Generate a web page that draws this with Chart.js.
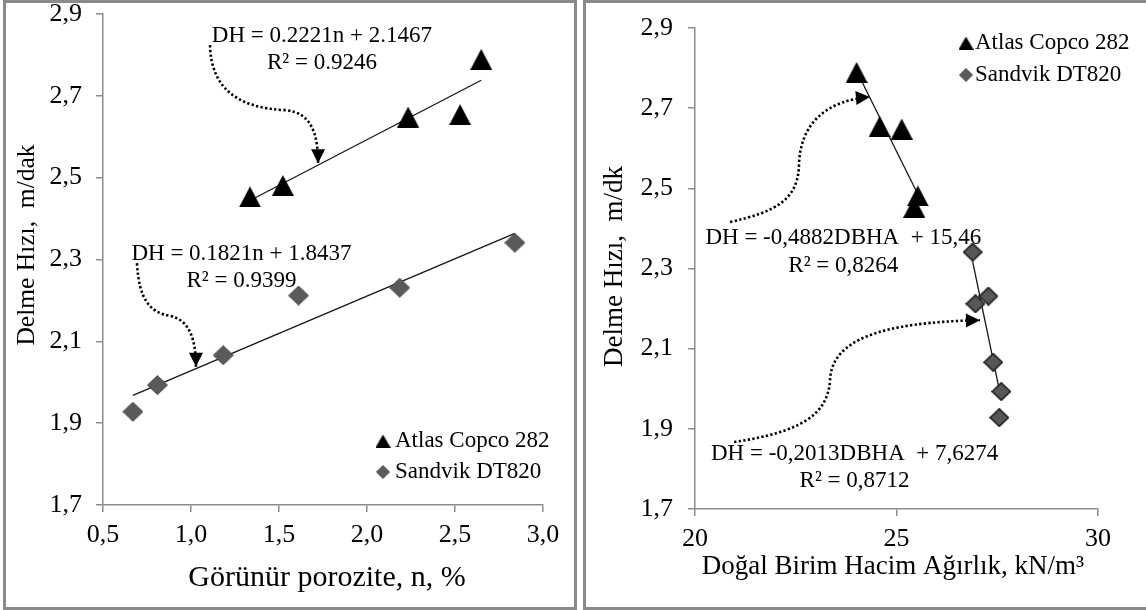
<!DOCTYPE html>
<html><head><meta charset="utf-8">
<script src="https://cdn.jsdelivr.net/npm/chart.js@4.4.1/dist/chart.umd.min.js"></script>
<style>
html,body{margin:0;padding:0;background:#fff;width:1146px;height:610px;overflow:hidden;}
.panel{position:absolute;top:0;height:610px;box-sizing:border-box;border:3px solid #8a8a8a;background:#fff;}
#p1{left:3px;width:574px;}
#p2{left:583px;width:567px;}
canvas{display:block;}
</style></head><body>
<div class="panel" id="p1"><canvas id="c1" width="568" height="604"></canvas></div>
<div class="panel" id="p2"><canvas id="c2" width="561" height="604"></canvas></div>
<script>
// ---------------- DATA ----------------
const seriesNames = ['Atlas Copco 282', 'Sandvik DT820'];
// drilling rate (DH, m/dak)
const atlasRate   = [2.453, 2.481, 2.648, 2.654, 2.789];
const sandvikRate = [1.928, 1.993, 2.066, 2.212, 2.231, 2.341];
// left chart: apparent porosity n (%)
const atlasPorosity   = [1.335, 1.522, 2.234, 2.529, 2.649];
const sandvikPorosity = [0.670, 0.809, 1.183, 1.611, 2.186, 2.840];
// right chart: natural unit weight (kN/m3)
const atlasUnitWeight   = [25.44, 25.53, 25.13, 24.58, 24.01];
const sandvikUnitWeight = [27.55, 27.60, 27.40, 26.96, 27.28, 26.89];
// ticks
const rateTicks = [1.7, 1.9, 2.1, 2.3, 2.5, 2.7, 2.9];
const rateTickLabels = ['1,7', '1,9', '2,1', '2,3', '2,5', '2,7', '2,9'];
const porosityTicks = [0.5, 1.0, 1.5, 2.0, 2.5, 3.0];
const porosityTickLabels = ['0,5', '1,0', '1,5', '2,0', '2,5', '3,0'];
const weightTicks = [20, 25, 30];
const weightTickLabels = ['20', '25', '30'];
// texts
const leftTitles = ['Görünür porozite, n, %', 'Delme Hızı,  m/dak'];
const rightTitles = ['Doğal Birim Hacim Ağırlık, kN/m³', 'Delme Hızı,  m/dk'];
const leftEquations = [['DH = 0.2221n + 2.1467', 'R² = 0.9246'], ['DH = 0.1821n + 1.8437', 'R² = 0.9399']];
const rightEquations = [['DH = -0,4882DBHA  + 15,46', 'R² = 0,8264'], ['DH = -0,2013DBHA  + 7,6274', 'R² = 0,8712']];

// ---------------- HELPERS ----------------
const FONT = "'Liberation Serif','Times New Roman',Times,serif";
const zip = (xs, ys) => xs.map((x, i) => ({x: x, y: ys[i]}));
function trend(xs, ys) {
  const n = xs.length;
  const mx = xs.reduce((a, b) => a + b, 0) / n, my = ys.reduce((a, b) => a + b, 0) / n;
  let sxy = 0, sxx = 0;
  for (let i = 0; i < n; i++) { sxy += (xs[i] - mx) * (ys[i] - my); sxx += (xs[i] - mx) * (xs[i] - mx); }
  const b = sxy / sxx, a = my - b * mx;
  const x0 = Math.min(...xs), x1 = Math.max(...xs);
  return [{x: x0, y: a + b * x0}, {x: x1, y: a + b * x1}];
}
function makeTriangle(w, h, fill) {
  const c = document.createElement('canvas'); c.width = w; c.height = h;
  const g = c.getContext('2d');
  g.fillStyle = fill; g.beginPath(); g.moveTo(w / 2, 0); g.lineTo(w, h); g.lineTo(0, h); g.closePath(); g.fill();
  return c;
}
function makeDiamond(w, h, fill, stroke, lw) {
  const c = document.createElement('canvas'); c.width = w; c.height = h;
  const g = c.getContext('2d'); const m = lw / 2;
  g.beginPath(); g.moveTo(w / 2, m); g.lineTo(w - m, h / 2); g.lineTo(w / 2, h - m); g.lineTo(m, h / 2); g.closePath();
  g.fillStyle = fill; g.fill();
  if (lw) { g.strokeStyle = stroke; g.lineWidth = lw; g.stroke(); }
  return c;
}
const triBig = makeTriangle(22, 21, '#000');
const triSmall = makeTriangle(15, 13, '#000');
const diaLeft = makeDiamond(21, 20, '#5a5a5a', '#474747', 1);
const diaRight = makeDiamond(20, 19, '#575757', '#1e1e1e', 1.6);
const diaSmall = makeDiamond(14, 14, '#5a5a5a', '#474747', 0.8);

function axis(min, max, ticks, labels, pad, fitSize, horizontal) {
  return {
    type: 'linear', min: min, max: max,
    afterBuildTicks: s => { s.ticks = ticks.map(v => ({value: v})); },
    afterFit: s => {
      if (horizontal) s.height = fitSize; else s.width = fitSize;
      s.paddingTop = 0; s.paddingBottom = 0; s.paddingLeft = 0; s.paddingRight = 0;
    },
    ticks: { callback: (v, i) => labels[i], font: {family: FONT, size: 26}, color: '#000',
             padding: pad, autoSkip: false, maxRotation: 0, minRotation: 0 },
    grid: { display: true, drawOnChartArea: false, drawTicks: true, tickLength: 7, color: '#8c8c8c', lineWidth: 1.5 },
    border: { display: true, color: '#8c8c8c', width: 1.5 },
    title: { display: false }
  };
}

const decor = {
  id: 'decor',
  beforeDatasetsDraw(chart, args, o) {
    const ctx = chart.ctx, xs = chart.scales.x, ys = chart.scales.y;
    const P = p => [xs.getPixelForValue(p[0]), ys.getPixelForValue(p[1])];
    ctx.save();
    // equations
    ctx.font = o.eqSize + 'px ' + FONT; ctx.fillStyle = '#000'; ctx.textAlign = 'center'; ctx.textBaseline = 'middle';
    o.equations.forEach(eq => {
      const [px, py] = P(eq.at);
      eq.lines.forEach((t, i) => ctx.fillText(t, px, py + i * o.eqLine));
    });
    // dotted arrows
    o.arrows.forEach(a => {
      const p = a.map(P);
      ctx.strokeStyle = '#000'; ctx.lineWidth = 2.6; ctx.setLineDash([2.3, 2.3]);
      ctx.beginPath(); ctx.moveTo(p[0][0], p[0][1]);
      ctx.bezierCurveTo(p[1][0], p[1][1], p[2][0], p[2][1], p[3][0], p[3][1]);
      ctx.bezierCurveTo(p[4][0], p[4][1], p[5][0], p[5][1], p[6][0], p[6][1]);
      ctx.stroke(); ctx.setLineDash([]);
      const ang = Math.atan2(p[6][1] - p[5][1], p[6][0] - p[5][0]);
      const tip = p[6], L = 14, W = 7;
      const bx = tip[0] - Math.cos(ang) * L, by = tip[1] - Math.sin(ang) * L;
      ctx.fillStyle = '#000'; ctx.beginPath(); ctx.moveTo(tip[0], tip[1]);
      ctx.lineTo(bx + Math.sin(ang) * W, by - Math.cos(ang) * W);
      ctx.lineTo(bx - Math.sin(ang) * W, by + Math.cos(ang) * W);
      ctx.closePath(); ctx.fill();
    });
    ctx.restore();
  },
  afterDraw(chart, args, o) {
    const ctx = chart.ctx;
    ctx.save(); ctx.fillStyle = '#000';
    // legend
    ctx.font = o.legendSize + 'px ' + FONT; ctx.textAlign = 'left'; ctx.textBaseline = 'middle';
    o.legend.forEach(it => {
      ctx.drawImage(it.img, it.mx - it.img.width / 2, it.y - it.img.height / 2);
      ctx.fillText(it.text, it.tx, it.y);
    });
    // axis titles
    ctx.textAlign = 'center';
    o.titles.forEach(t => {
      ctx.save(); ctx.font = t.size + 'px ' + FONT;
      ctx.translate(t.x, t.y); ctx.rotate(t.rot); ctx.fillText(t.text, 0, 0); ctx.restore();
    });
    ctx.restore();
  }
};

function scatterSet(label, data, img) {
  return { label: label, data: data, pointStyle: img, pointRadius: 10, pointHoverRadius: 10,
           backgroundColor: '#000', borderColor: '#000', showLine: false };
}
function trendSet(data) {
  return { label: 'trend', data: data, showLine: true, borderColor: '#151515', borderWidth: 1.3,
           pointRadius: 0, pointHoverRadius: 0, fill: false };
}

// ---------------- LEFT CHART ----------------
new Chart(document.getElementById('c1'), {
  type: 'scatter',
  data: { datasets: [
    scatterSet(seriesNames[0], zip(atlasPorosity, atlasRate), triBig),
    scatterSet(seriesNames[1], zip(sandvikPorosity, sandvikRate), diaLeft),
    trendSet(trend(atlasPorosity, atlasRate)),
    trendSet(trend(sandvikPorosity, sandvikRate))
  ]},
  options: {
    responsive: false, animation: false, devicePixelRatio: 1, events: [],
    layout: { padding: { left: 0, top: 11, right: 31, bottom: 0 } },
    scales: {
      x: axis(0.5, 3.0, porosityTicks, porosityTickLabels, 8, 102, true),
      y: axis(1.7, 2.9, rateTicks, rateTickLabels, 14, 97, false)
    },
    plugins: {
      legend: { display: false }, tooltip: { enabled: false },
      decor: {
        eqSize: 23, eqLine: 27,
        equations: [
          { at: [1.744, 2.847], lines: leftEquations[0] },
          { at: [1.287, 2.313], lines: leftEquations[1] }
        ],
        arrows: [
          [[1.108, 2.824], [1.114, 2.714], [1.278, 2.670], [1.534, 2.665], [1.688, 2.660], [1.722, 2.604], [1.722, 2.535]],
          [[0.693, 2.291], [0.705, 2.201], [0.767, 2.171], [0.881, 2.162], [0.994, 2.152], [1.028, 2.103], [1.028, 2.038]]
        ],
        legendSize: 23,
        legend: [
          { img: triSmall, mx: 377, tx: 389, y: 438, text: seriesNames[0] },
          { img: diaSmall, mx: 377, tx: 389, y: 469, text: seriesNames[1] }
        ],
        titles: [
          { text: leftTitles[0], x: 321, y: 575, rot: 0, size: 30 },
          { text: leftTitles[1], x: 21, y: 242, rot: -Math.PI / 2, size: 25.5 }
        ]
      }
    }
  },
  plugins: [decor]
});

// ---------------- RIGHT CHART ----------------
new Chart(document.getElementById('c2'), {
  type: 'scatter',
  data: { datasets: [
    scatterSet(seriesNames[0], zip(atlasUnitWeight, atlasRate), triBig),
    scatterSet(seriesNames[1], zip(sandvikUnitWeight, sandvikRate), diaRight),
    trendSet(trend(atlasUnitWeight, atlasRate)),
    trendSet(trend(sandvikUnitWeight, sandvikRate))
  ]},
  options: {
    responsive: false, animation: false, devicePixelRatio: 1, events: [],
    layout: { padding: { left: 0, top: 25, right: 49, bottom: 0 } },
    scales: {
      x: axis(20, 30, weightTicks, weightTickLabels, 8, 98, true),
      y: axis(1.7, 2.9, rateTicks, rateTickLabels, 15, 109, false)
    },
    plugins: {
      legend: { display: false }, tooltip: { enabled: false },
      decor: {
        eqSize: 23, eqLine: 27.5,
        equations: [
          { at: [23.68, 2.375], lines: rightEquations[0] },
          { at: [23.96, 1.838], lines: rightEquations[1] }
        ],
        arrows: [
          [[20.87, 2.416], [21.99, 2.441], [22.56, 2.471], [22.58, 2.558], [22.61, 2.670], [23.35, 2.720], [24.34, 2.728]],
          [[20.97, 1.867], [22.61, 1.892], [23.30, 1.934], [23.35, 2.022], [23.40, 2.122], [24.59, 2.166], [27.07, 2.171]]
        ],
        legendSize: 23,
        legend: [
          { img: triSmall, mx: 380, tx: 389, y: 40, text: seriesNames[0] },
          { img: diaSmall, mx: 380, tx: 389, y: 72, text: seriesNames[1] }
        ],
        titles: [
          { text: rightTitles[0], x: 307, y: 564, rot: 0, size: 27 },
          { text: rightTitles[1], x: 29, y: 263.5, rot: -Math.PI / 2, size: 27 }
        ]
      }
    }
  },
  plugins: [decor]
});
</script>
</body></html>
